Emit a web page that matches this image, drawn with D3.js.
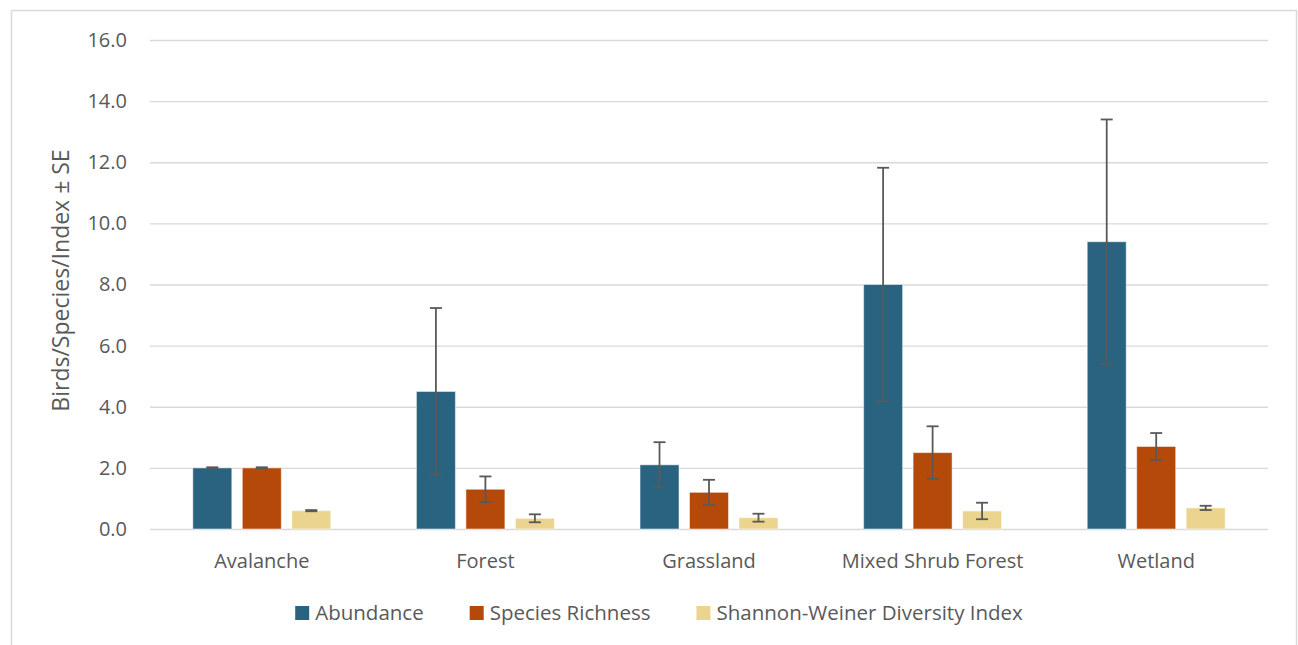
<!DOCTYPE html>
<html>
<head>
<meta charset="utf-8">
<script src="https://cdn.jsdelivr.net/npm/d3@7"></script>
<style>
  html, body { margin: 0; padding: 0; background: #fff; }
  svg { display: block; }
  text { font-family: "Open Sans", sans-serif; fill: #595959; }
</style>
</head>
<body>
<svg id="chart" width="1298" height="645"></svg>
<script>
const categories = ["Avalanche", "Forest", "Grassland", "Mixed Shrub Forest", "Wetland"];
const seriesNames = ["Abundance", "Species Richness", "Shannon-Weiner Diversity Index"];
const abundance = [2.0, 4.5, 2.1, 8.0, 9.4];
const abundanceSE = [0.02, 2.73, 0.74, 3.82, 4.0];
const richness = [2.0, 1.3, 1.2, 2.5, 2.7];
const richnessSE = [0.02, 0.42, 0.41, 0.86, 0.44];
const shannon = [0.6, 0.35, 0.37, 0.59, 0.69];
const shannonSE = [0.02, 0.13, 0.13, 0.27, 0.07];
const yTicks = [0, 2, 4, 6, 8, 10, 12, 14, 16];
const colors = ["#2a6380", "#b5490a", "#ebd58e"];

const values = [abundance, richness, shannon];
const errors = [abundanceSE, richnessSE, shannonSE];

const svg = d3.select("#chart");
const plotL = 150, plotR = 1268, plotT = 40, plotB = 529;

// outer border
svg.append("rect").attr("x", 11.5).attr("y", 10.5).attr("width", 1285).attr("height", 650)
  .attr("fill", "none").attr("stroke", "#d9d9d9").attr("stroke-width", 1.5);

const y = d3.scaleLinear().domain([0, 16]).range([plotB, plotT]);
const x0 = d3.scaleBand().domain(categories).range([plotL, plotR])
  .paddingInner(0.383).paddingOuter(0.1915);
const x1 = d3.scaleBand().domain(seriesNames).range([0, x0.bandwidth()])
  .paddingInner(0.212).paddingOuter(0);

// gridlines + y tick labels
const yAxis = d3.axisLeft(y).tickValues(yTicks).tickSize(-(plotR - plotL)).tickPadding(23)
  .tickFormat(d3.format(".1f"));
const gy = svg.append("g").attr("transform", `translate(${plotL},0)`).call(yAxis);
gy.select(".domain").remove();
gy.selectAll(".tick line").attr("stroke", "#d9d9d9").attr("stroke-width", 1.3);
gy.selectAll(".tick text").attr("font-size", 20).attr("fill", "#595959")
  .style("font-family", '"Open Sans", sans-serif');

// x axis labels
const xAxis = d3.axisBottom(x0).tickSize(0).tickPadding(25);
const gx = svg.append("g").attr("transform", `translate(0,${plotB})`).call(xAxis);
gx.select(".domain").remove();
gx.selectAll(".tick text").attr("font-size", 20).attr("fill", "#595959")
  .style("font-family", '"Open Sans", sans-serif');

// bars
const data = [];
categories.forEach((c, i) => {
  seriesNames.forEach((s, j) => {
    data.push({ cat: c, series: s, j, v: values[j][i], e: errors[j][i] });
  });
});

svg.append("g").selectAll("rect").data(data).join("rect")
  .attr("x", d => x0(d.cat) + x1(d.series))
  .attr("y", d => y(d.v))
  .attr("width", x1.bandwidth())
  .attr("height", d => y(0) - y(d.v))
  .attr("fill", d => colors[d.j])
  .attr("stroke", "#ffffff").attr("stroke-opacity", 0.5).attr("stroke-width", 1);

// error bars
const eg = svg.append("g").attr("stroke", "#595959").attr("stroke-width", 1.8);
const capW = 6;
data.forEach(d => {
  const cx = x0(d.cat) + x1(d.series) + x1.bandwidth() / 2;
  const yt = y(d.v + d.e), yb = y(d.v - d.e);
  eg.append("line").attr("x1", cx).attr("x2", cx).attr("y1", yt).attr("y2", yb);
  eg.append("line").attr("x1", cx - capW).attr("x2", cx + capW).attr("y1", yt).attr("y2", yt);
  eg.append("line").attr("x1", cx - capW).attr("x2", cx + capW).attr("y1", yb).attr("y2", yb);
});

// y axis title
svg.append("text")
  .attr("transform", `translate(69,${(plotT + plotB) / 2 - 4}) rotate(-90)`)
  .attr("text-anchor", "middle")
  .attr("font-size", 23)
  .text("Birds/Species/Index ± SE");

// legend
const lg = svg.append("g");
let cur = 0;
const gap = 46;
seriesNames.forEach((s, j) => {
  const g = lg.append("g");
  g.append("rect").attr("x", 0).attr("y", -7).attr("width", 14).attr("height", 14).attr("fill", colors[j]);
  const t = g.append("text").attr("x", 20).attr("dy", "0.35em").attr("font-size", 20.5).text(s);
  const w = 20 + t.node().getComputedTextLength();
  g.attr("transform", `translate(${cur},0)`);
  cur += w + gap;
});
const total = cur - gap;
lg.attr("transform", `translate(${(296 + 1022) / 2 - total / 2},${613})`);
</script>
</body>
</html>
